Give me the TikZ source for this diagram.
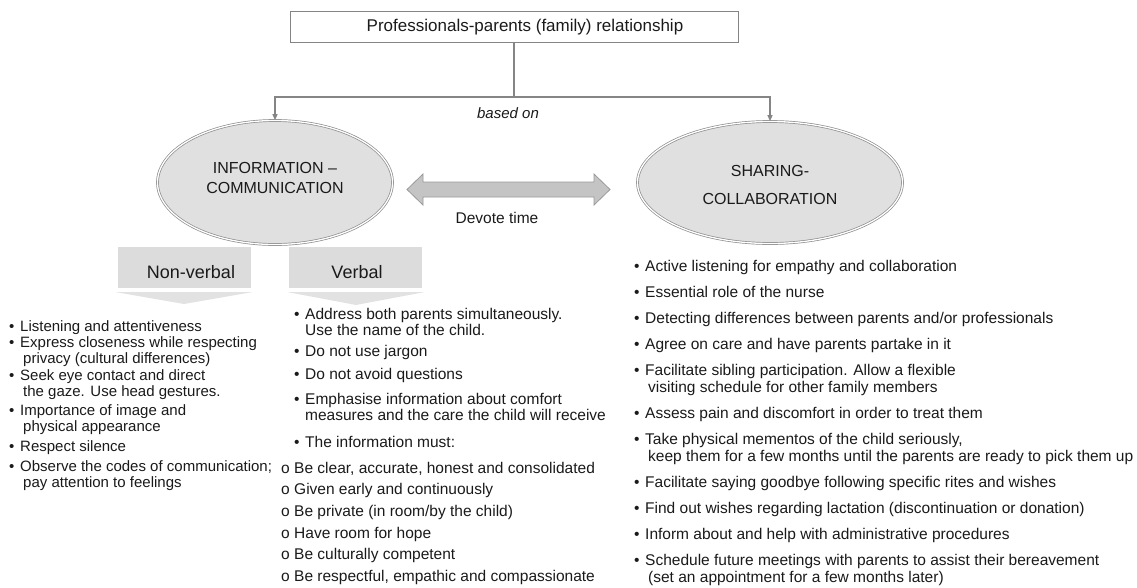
\documentclass[tikz,border=0pt]{standalone}
\usepackage{fontspec}
\setmainfont{Liberation Sans}
\usetikzlibrary{shapes.geometric,arrows.meta}
\definecolor{linegray}{HTML}{858585}
\definecolor{ellfill}{HTML}{E0E0E0}
\definecolor{ellline}{HTML}{8C8C8C}
\definecolor{tabfill}{HTML}{DCDCDC}
\definecolor{chevfill}{HTML}{E2E2E2}
\definecolor{arrfill}{HTML}{C4C4C4}
\definecolor{arrline}{HTML}{9A9A9A}
\definecolor{inkc}{HTML}{1A1A1A}
\newcommand\bodyfs{\fontsize{15.5}{17.5}\selectfont}
\newcommand\leftfs{\fontsize{15}{17}\selectfont}
\newcommand\bul{\makebox[11pt][l]{\textbullet}}
\newcommand\subm{\makebox[13pt][l]{o}}
\begin{document}
\begin{tikzpicture}[x=1pt,y=-1pt,
  item/.style={anchor=base west, inner sep=0pt, font=\bodyfs, text=inkc},
  litem/.style={item, font=\leftfs},
  label/.style={inner sep=0pt, text=inkc, align=center},
  conn/.style={draw=linegray, line width=1.3pt},
  tip/.style={-{Triangle[length=6pt,width=5pt]}},
  oval/.style={ellipse, draw=ellline, line width=0.7pt, double=white, double distance=1.3pt, fill=ellfill, inner sep=0pt},
  tab/.style={fill=tabfill, inner sep=0pt, minimum width=133pt, minimum height=41pt},
  chev/.style={fill=chevfill}]
\useasboundingbox (0,0) rectangle (1137,587);

% top box
\node[draw=linegray, line width=1pt, minimum width=448pt, minimum height=31pt, inner sep=0pt] (top) at (514,26.5) {};
\node[label, font=\fontsize{17}{20}\selectfont] (toptxt) at (525,27) {Professionals-parents (family) relationship};

% ellipses
\node[oval, minimum width=235pt, minimum height=124pt] (info) at (275,182.5) {};
\node[oval, minimum width=265pt, minimum height=122pt] (share) at (770,182.5) {};
\node[label, font=\fontsize{16}{20}\selectfont] (infotxt) at (275,178) {INFORMATION –\\COMMUNICATION};
\node[label, font=\fontsize{16}{28}\selectfont] (sharetxt) at (770,185) {SHARING-\\COLLABORATION};

% connectors
\coordinate (j) at (514,97);
\draw[conn] (top.south) -- (j);
\draw[conn, tip] (j) -| (info.north);
\draw[conn, tip] (j) -| (share.north);
\node[label, font=\fontsize{15}{18}\selectfont\itshape] (based) at (508,113) {based on};

% double block arrow
\draw[draw=arrline, fill=arrfill, line width=0.8pt]
  (407,189.5) -- (423,174) -- (423,182) -- (594,182) -- (594,174) -- (610,189.5)
  -- (594,205) -- (594,197) -- (423,197) -- (423,205) -- cycle;
\node[label, font=\fontsize{15.5}{18}\selectfont] (devote) at (497,218) {Devote time};

% tabs
\node[tab] (nv) at (184.5,267.5) {};
\fill[chev] (115,292) -- (253,292) -- (184,304) -- cycle;
\node[label, font=\fontsize{18}{20}\selectfont] (nvtxt) at (191,272) {Non-verbal};
\node[tab] (vb) at (355.5,267.5) {};
\fill[chev] (287,292) -- (425,292) -- (356,305) -- cycle;
\node[label, font=\fontsize{18}{20}\selectfont] (vbtxt) at (357,272) {Verbal};

% non-verbal list
\node[litem] (l1) at (9,331) {\bul Listening and attentiveness};
\node[litem] (l2) at (9,347) {\bul Express closeness while respecting};
\node[litem] (l2b) at (23,363) {privacy (cultural differences)};
\node[litem] (l3) at (9,380) {\bul Seek eye contact and direct};
\node[litem] (l3b) at (23,396) {the gaze. Use head gestures.};
\node[litem] (l4) at (9,415) {\bul Importance of image and};
\node[litem] (l4b) at (23,431) {physical appearance};
\node[litem] (l5) at (9,451) {\bul Respect silence};
\node[litem] (l6) at (9,471) {\bul Observe the codes of communication;};
\node[litem] (l6b) at (23,487) {pay attention to feelings};

% verbal list
\node[item] (v1) at (294,319) {\bul Address both parents simultaneously.};
\node[item] (v1b) at (305,335) {Use the name of the child.};
\node[item] (v2) at (294,356) {\bul Do not use jargon};
\node[item] (v3) at (294,379) {\bul Do not avoid questions};
\node[item] (v4) at (294,404) {\bul Emphasise information about comfort};
\node[item] (v4b) at (305,420) {measures and the care the child will receive};
\node[item] (v5) at (294,447) {\bul The information must:};
\node[item] (s1) at (281,473) {\subm Be clear, accurate, honest and consolidated};
\node[item] (s2) at (281,494) {\subm Given early and continuously};
\node[item] (s3) at (281,516) {\subm Be private (in room/by the child)};
\node[item] (s4) at (281,538) {\subm Have room for hope};
\node[item] (s5) at (281,559) {\subm Be culturally competent};
\node[item] (s6) at (281,581) {\subm Be respectful, empathic and compassionate};

% sharing list
\node[item] (r1) at (634,271) {\bul Active listening for empathy and collaboration};
\node[item] (r2) at (634,297) {\bul Essential role of the nurse};
\node[item] (r3) at (634,323) {\bul Detecting differences between parents and/or professionals};
\node[item] (r4) at (634,349) {\bul Agree on care and have parents partake in it};
\node[item] (r5) at (634,375) {\bul Facilitate sibling participation. Allow a flexible};
\node[item] (r5b) at (648,392) {visiting schedule for other family members};
\node[item] (r6) at (634,418) {\bul Assess pain and discomfort in order to treat them};
\node[item] (r7) at (634,444) {\bul Take physical mementos of the child seriously,};
\node[item] (r7b) at (648,461) {keep them for a few months until the parents are ready to pick them up};
\node[item] (r8) at (634,487) {\bul Facilitate saying goodbye following specific rites and wishes};
\node[item] (r9) at (634,513) {\bul Find out wishes regarding lactation (discontinuation or donation)};
\node[item] (r10) at (634,539) {\bul Inform about and help with administrative procedures};
\node[item] (r11) at (634,565) {\bul Schedule future meetings with parents to assist their bereavement};
\node[item] (r11b) at (648,582) {(set an appointment for a few months later)};
\end{tikzpicture}
\end{document}
